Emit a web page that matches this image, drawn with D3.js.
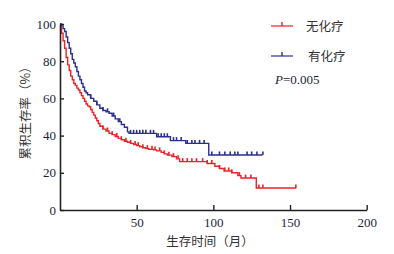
<!DOCTYPE html>
<html>
<head>
<meta charset="utf-8">
<script src="https://cdn.jsdelivr.net/npm/d3@7"></script>
<style>
  html, body { margin: 0; padding: 0; background: #fff; }
  svg { display: block; }
  .num { font-family: "Liberation Serif", "DejaVu Serif", serif; font-size: 13px; fill: #1e1e3a; }
  .cjk { font-family: "Noto Sans CJK SC", sans-serif; font-size: 12.5px; fill: #333; }
</style>
</head>
<body>
<div id="view"></div>
<script>
// 生存曲线数据（月, %）
const redTimes = [0, 0.5, 1, 2, 3, 4, 5, 6, 7, 8, 9, 10, 11, 12, 13, 14, 15, 16, 17, 18, 19, 20, 21, 22, 23, 24, 25, 26, 28, 30, 32, 34, 36, 38, 40, 42, 44, 46, 48, 50, 52, 54, 56, 58, 61, 63, 66, 68, 70, 73, 76, 78, 96, 101, 104, 107, 112, 116, 118, 128, 154];
const redSurv  = [100, 98, 95, 91, 87, 82, 78, 75, 72, 70, 68, 67, 65.5, 64.5, 63, 61.5, 60, 58.5, 57, 56, 55.5, 54, 52.5, 51, 49.5, 48, 46.5, 45, 43.5, 42.5, 41.2, 40.5, 39.5, 38.5, 37.8, 37, 36.4, 35.8, 35.2, 34.6, 34, 33.5, 33, 32.6, 32.3, 31.8, 31, 30.2, 29.5, 28.7, 27.5, 26, 25, 23.5, 22.3, 21, 20, 18.5, 17.2, 11.8, 11.8];
const redCensor = [28, 31, 34, 37, 40, 43, 46, 49, 51, 54, 57, 60, 62, 65, 68, 71, 74, 77, 80, 83, 86, 89, 93, 96, 99, 104, 107.5, 110, 112, 117, 121, 124.5, 129.7, 132.3, 153.8];

const blueTimes = [0, 1, 2, 3, 4, 5, 6, 7, 8, 9, 10, 11, 12, 13, 14, 15, 16, 17, 18, 20, 22, 24, 26, 28, 30, 32, 34, 36, 38, 40, 42, 44, 45, 63, 72, 82, 97, 132];
const blueSurv  = [100, 99, 97.5, 96, 93, 90, 87, 84, 81, 79, 77, 74.5, 72, 70, 68, 66, 64, 63, 62, 60, 58.5, 56.5, 54.7, 53.5, 52.8, 52, 50.5, 49, 47.5, 46, 44.5, 42, 41.2, 39.4, 37.3, 35.8, 29.6, 29.6];
const blueCensor = [20, 24, 28, 31, 35, 39, 46, 48, 50, 52, 54, 56, 59, 61, 64, 66, 68, 70, 74, 76, 79, 83, 86, 88, 91, 94, 99, 104, 107.5, 111, 114, 116, 122, 125, 128.4, 132.3];

const xTicks = [50, 100, 150, 200];
const yTicks = [0, 20, 40, 60, 80, 100];
const groups = [
  { name: "无化疗", times: redTimes, surv: redSurv, censor: redCensor, color: "#ec2227" },
  { name: "有化疗", times: blueTimes, surv: blueSurv, censor: blueCensor, color: "#2b2f8f" }
];
const pText = "=0.005";

const W = 394, H = 254;
const M = { t: 24, r: 27, b: 44, l: 60 };
const w = W - M.l - M.r, h = H - M.t - M.b;

const svg = d3.select("#view").append("svg").attr("width", W).attr("height", H);
const g = svg.append("g").attr("transform", `translate(${M.l},${M.t})`);

const x = d3.scaleLinear().domain([0, 200]).range([0, 306.7]);
const y = d3.scaleLinear().domain([0, 100]).range([h, 0]);

// 曲线
const stepLine = d3.line().x(d => x(d[0])).y(d => y(d[1])).curve(d3.curveStepAfter);

function survAt(gr, t) {
  let s = gr.surv[0];
  for (let i = 0; i < gr.times.length; i++) if (gr.times[i] <= t) s = gr.surv[i];
  return s;
}

groups.forEach(gr => {
  const pts = gr.times.map((t, i) => [t, gr.surv[i]]);
  g.append("path").attr("d", stepLine(pts))
    .attr("fill", "none").attr("stroke", gr.color).attr("stroke-width", 1.4);
  g.selectAll(null).data(gr.censor).join("line")
    .attr("x1", d => x(d)).attr("x2", d => x(d))
    .attr("y1", d => y(survAt(gr, d))).attr("y2", d => y(survAt(gr, d)) - 3.5)
    .attr("stroke", gr.color).attr("stroke-width", 1.6);
});

// 坐标轴
const xAxis = g.append("g").attr("transform", `translate(0,${h})`)
  .call(d3.axisBottom(x).tickValues(xTicks).tickSizeInner(-5).tickSizeOuter(0).tickPadding(8));
xAxis.select(".domain").attr("stroke", "#222").attr("stroke-width", 1.6);
xAxis.selectAll(".tick line").attr("stroke", "#222").attr("stroke-width", 1.4);
xAxis.selectAll("text").attr("class", "num").attr("fill", null);

const yAxis = g.append("g")
  .call(d3.axisLeft(y).tickValues(yTicks).tickSizeInner(-4).tickSizeOuter(0).tickPadding(4));
yAxis.select(".domain").attr("stroke", "#222").attr("stroke-width", 1.6);
yAxis.selectAll(".tick line").attr("stroke", "#222").attr("stroke-width", 1.4);
yAxis.selectAll("text").attr("class", "num").attr("fill", null);
xAxis.attr("font-family", null).attr("font-size", null);
yAxis.attr("font-family", null).attr("font-size", null);

// 轴标题
svg.append("text").attr("class", "cjk")
  .attr("transform", "translate(30,110) rotate(-90)")
  .attr("text-anchor", "middle").text("累积生存率（%）");
svg.append("text").attr("class", "cjk")
  .attr("x", 210).attr("y", 246).attr("text-anchor", "middle").text("生存时间（月）");

// 图例
const leg = svg.append("g");
groups.forEach((gr, i) => {
  const ly = 26 + i * 30;
  leg.append("line").attr("x1", 271).attr("x2", 293).attr("y1", ly).attr("y2", ly)
    .attr("stroke", gr.color).attr("stroke-width", 1.2);
  leg.append("line").attr("x1", 282).attr("x2", 282).attr("y1", ly).attr("y2", ly - 4)
    .attr("stroke", gr.color).attr("stroke-width", 1.4);
  leg.append("text").attr("class", "cjk").attr("x", 306 + i * 2).attr("y", ly + 5).text(gr.name);
});
const pt = svg.append("text").attr("class", "num").attr("x", 275).attr("y", 84);
pt.append("tspan").attr("font-style", "italic").text("P");
pt.append("tspan").text(pText);
</script>
</body>
</html>
